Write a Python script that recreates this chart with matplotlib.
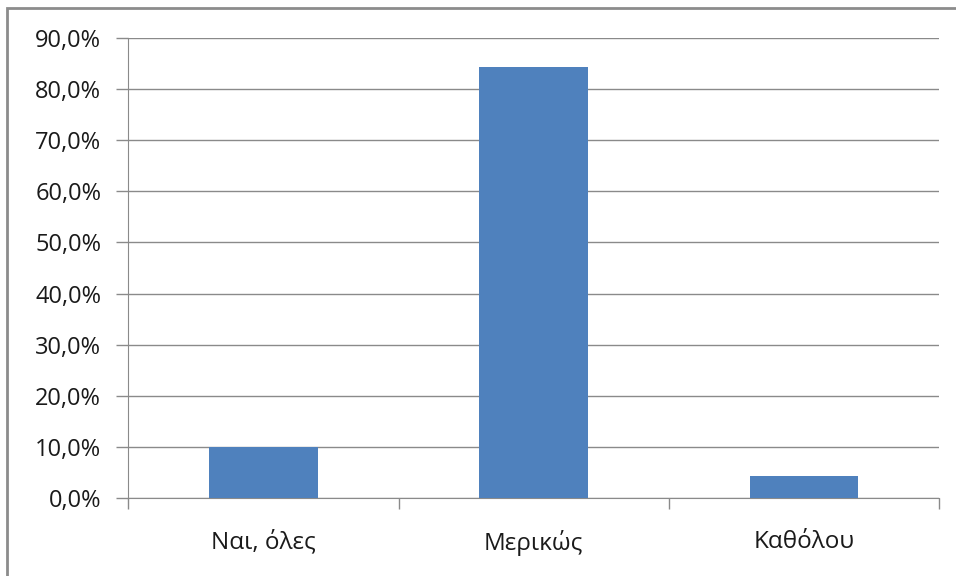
import matplotlib
matplotlib.use("Agg")
import matplotlib.pyplot as plt
from matplotlib.patches import Rectangle
from matplotlib.ticker import FuncFormatter, MultipleLocator, FixedLocator

categories = ["Ναι, όλες", "Μερικώς", "Καθόλου"]
values = [0.100, 0.843, 0.043]

plt.rcParams['font.family'] = ['Open Sans', 'DejaVu Sans']

W, H = 956, 576
fig = plt.figure(figsize=(W / 100, H / 100), dpi=100)

# outer frame of the chart area
fig.patches.append(Rectangle((7 / W, -0.05), 1.2, 1.05 - 8 / H,
                             transform=fig.transFigure, fill=False,
                             edgecolor="#8c8c8c", linewidth=2, clip_on=False))

ax = fig.add_axes([128.3 / W, 77.7 / H, (939.3 - 128.3) / W, (498.3 - 37.7) / H])

x = range(len(categories))
ax.bar(x, values, width=0.402, color="#4F81BD", zorder=3)

ax.set_xlim(-0.5, len(categories) - 0.5)
ax.set_ylim(0, 0.9)
ax.yaxis.set_major_locator(MultipleLocator(0.1))
ax.yaxis.set_major_formatter(FuncFormatter(lambda v, p: f"{v * 100:.1f}%".replace(".", ",")))
ax.grid(axis="y", color="#8a8a8a", linewidth=1, zorder=0)

ax.set_xticks(list(x))
ax.set_xticklabels(categories)
ax.xaxis.set_minor_locator(FixedLocator([-0.5, 0.5, 1.5, 2.5]))
ax.tick_params(axis="x", which="major", length=0, pad=23, labelsize=17.5, colors="#1a1a1a")
ax.tick_params(axis="x", which="minor", length=8, width=1, color="#8a8a8a", direction="out")
ax.tick_params(axis="y", length=9, width=1, color="#8a8a8a", pad=10.5, labelsize=17,
               labelcolor="#1a1a1a")

for side in ["top", "right"]:
    ax.spines[side].set_visible(False)
ax.spines["left"].set_color("#8a8a8a")
ax.spines["bottom"].set_color("#8a8a8a")

fig.savefig("out.png", dpi=100)
